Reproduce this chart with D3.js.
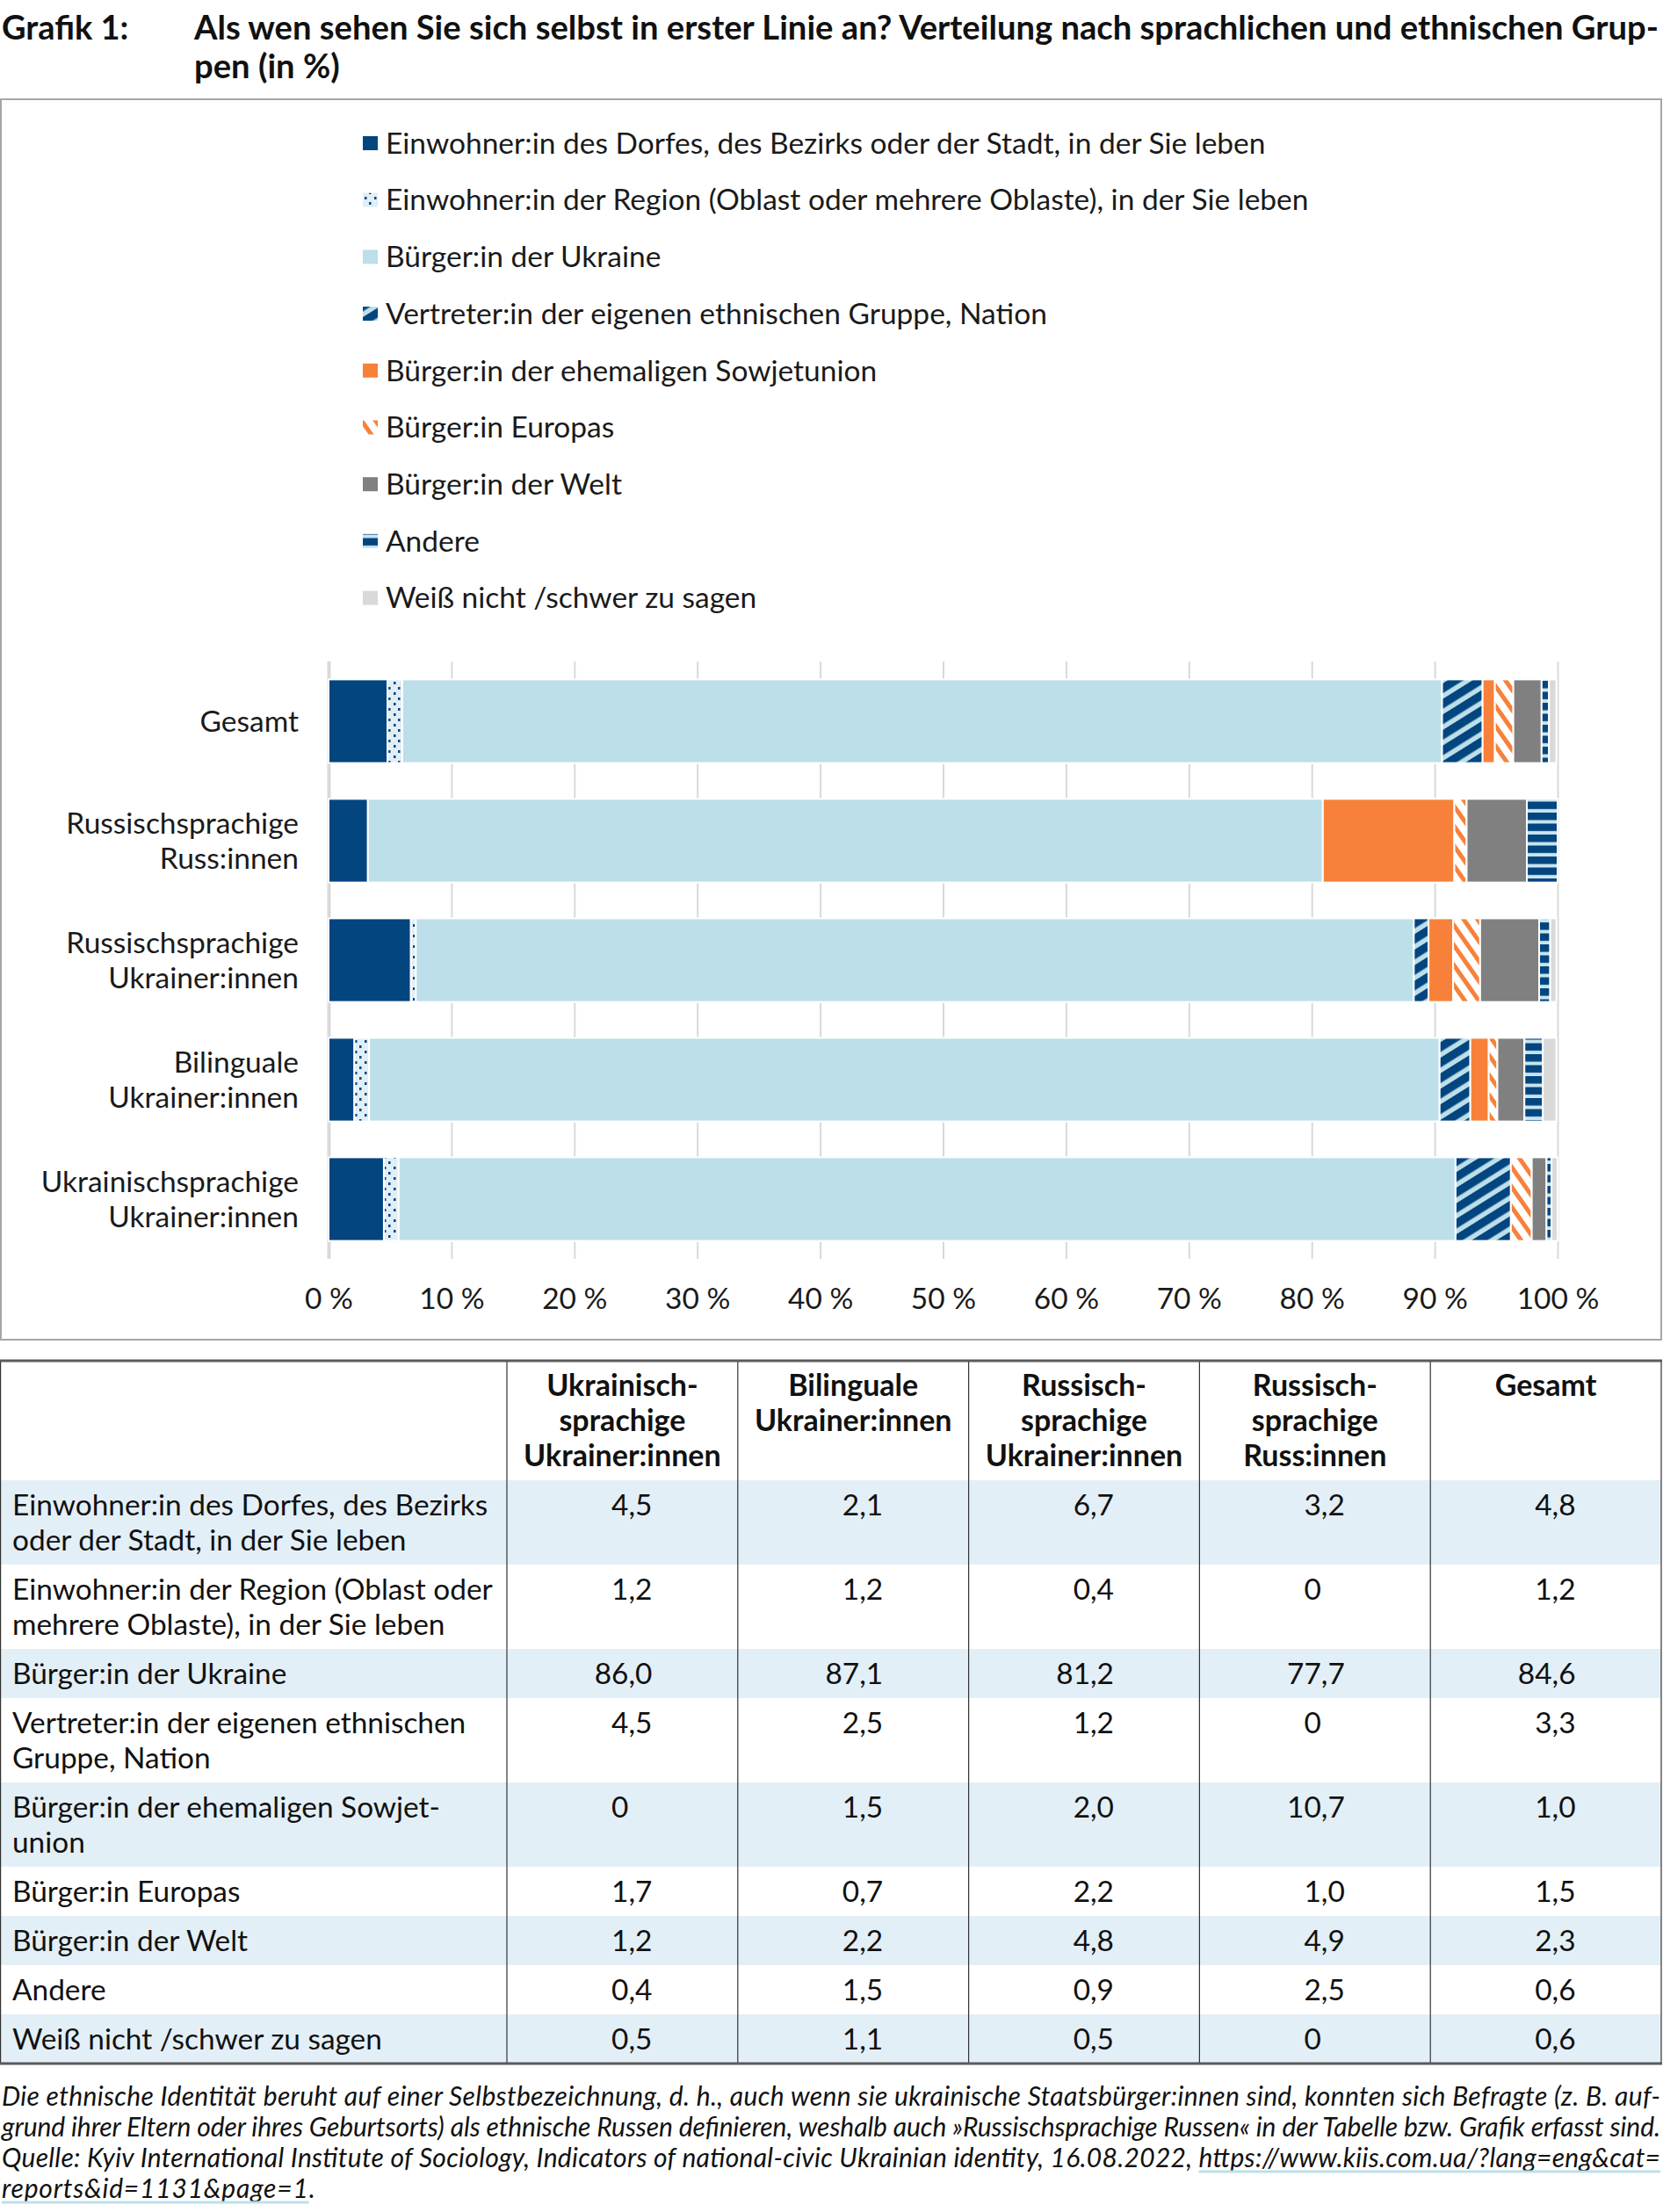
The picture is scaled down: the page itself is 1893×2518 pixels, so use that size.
<!DOCTYPE html>
<html>
<head>
<meta charset="utf-8">
<script src="https://cdn.jsdelivr.net/npm/d3@7"></script>
<style>
    html, body { margin: 0; padding: 0; background: #fff; }
    svg { display: block; font-family: Lato, "Open Sans", sans-serif; }
</style>
</head>
<body>
<svg id="chart" width="1893" height="2518"></svg>
<script>
// Grafik 1: Selbstverortung nach sprachlichen und ethnischen Gruppen (in %)

// Spalten der Tabelle (Reihenfolge wie in der Tabelle)
const COLUMNS = [
    'Ukrainischsprachige Ukrainer:innen',
    'Bilinguale Ukrainer:innen',
    'Russischsprachige Ukrainer:innen',
    'Russischsprachige Russ:innen',
    'Gesamt'
];

// Reihenfolge der Balken von oben nach unten
const BAR_ORDER = [
    'Gesamt',
    'Russischsprachige Russ:innen',
    'Russischsprachige Ukrainer:innen',
    'Bilinguale Ukrainer:innen',
    'Ukrainischsprachige Ukrainer:innen'
];

const CATEGORIES = [
    'Einwohner:in des Dorfes, des Bezirks oder der Stadt, in der Sie leben',
    'Einwohner:in der Region (Oblast oder mehrere Oblaste), in der Sie leben',
    'Bürger:in der Ukraine',
    'Vertreter:in der eigenen ethnischen Gruppe, Nation',
    'Bürger:in der ehemaligen Sowjetunion',
    'Bürger:in Europas',
    'Bürger:in der Welt',
    'Andere',
    'Weiß nicht /schwer zu sagen'
];

// Werte je Kategorie, in der Reihenfolge von COLUMNS
const V_DORF      = [4.5, 2.1, 6.7, 3.2, 4.8];
const V_REGION    = [1.2, 1.2, 0.4, 0, 1.2];
const V_UKRAINE   = [86.0, 87.1, 81.2, 77.7, 84.6];
const V_VERTRETER = [4.5, 2.5, 1.2, 0, 3.3];
const V_SOWJET    = [0, 1.5, 2.0, 10.7, 1.0];
const V_EUROPA    = [1.7, 0.7, 2.2, 1.0, 1.5];
const V_WELT      = [1.2, 2.2, 4.8, 4.9, 2.3];
const V_ANDERE    = [0.4, 1.5, 0.9, 2.5, 0.6];
const V_WEISS     = [0.5, 1.1, 0.5, 0, 0.6];
const SERIES_VALUES = [V_DORF, V_REGION, V_UKRAINE, V_VERTRETER, V_SOWJET, V_EUROPA, V_WELT, V_ANDERE, V_WEISS];

const X_TICKS = [0, 10, 20, 30, 40, 50, 60, 70, 80, 90, 100];

// Tabellenbeschriftungen mit Zeilenumbruch wie im Original
const HEADER_LINES = [
    ['Ukrainisch-', 'sprachige', 'Ukrainer:innen'],
    ['Bilinguale', 'Ukrainer:innen'],
    ['Russisch-', 'sprachige', 'Ukrainer:innen'],
    ['Russisch-', 'sprachige', 'Russ:innen'],
    ['Gesamt']
];
const ROW_LINES = [
    ['Einwohner:in des Dorfes, des Bezirks', 'oder der Stadt, in der Sie leben'],
    ['Einwohner:in der Region (Oblast oder', 'mehrere Oblaste), in der Sie leben'],
    ['Bürger:in der Ukraine'],
    ['Vertreter:in der eigenen ethnischen', 'Gruppe, Nation'],
    ['Bürger:in der ehemaligen Sowjet-', 'union'],
    ['Bürger:in Europas'],
    ['Bürger:in der Welt'],
    ['Andere'],
    ['Weiß nicht /schwer zu sagen']
];

const TITLE_LINES = [
    'Als wen sehen Sie sich selbst in erster Linie an? Verteilung nach sprachlichen und ethnischen Grup-',
    'pen (in %)'
];
const NOTE_LINES = [
    'Die ethnische Identität beruht auf einer Selbstbezeichnung, d. h., auch wenn sie ukrainische Staatsbürger:innen sind, konnten sich Befragte (z. B. auf-',
    'grund ihrer Eltern oder ihres Geburtsorts) als ethnische Russen definieren, weshalb auch »Russischsprachige Russen« in der Tabelle bzw. Grafik erfasst sind.',
    'Quelle: Kyiv International Institute of Sociology, Indicators of national-civic Ukrainian identity, 16.08.2022, https://www.kiis.com.ua/?lang=eng&cat=',
    'reports&id=1131&page=1.'
];

// Farben
const C_DARK = '#03457f';
const C_LIGHT = '#bcdfea';
const C_ORANGE = '#f7813a';
const C_GREY = '#808080';
const C_LGREY = '#d9d9d9';
const FILLS = [C_DARK, 'url(#pRegion)', C_LIGHT, 'url(#pVertreter)', C_ORANGE,
    'url(#pEuropa)', C_GREY, 'url(#pAndere)', C_LGREY];

const FS = 33.5;      // Grundschrift
const FS_TAB = 33.4;  // Tabellenschrift

const svg = d3.select('#chart');
const defs = svg.append('defs');

function stripePattern(id, bg, fg, size, band, angle) {
    const p = defs.append('pattern')
        .attr('id', id)
        .attr('patternUnits', 'userSpaceOnUse')
        .attr('width', size)
        .attr('height', size)
        .attr('patternTransform', 'rotate(' + angle + ')');
    p.append('rect').attr('width', size).attr('height', size).attr('fill', bg);
    p.append('rect').attr('width', size).attr('height', band).attr('fill', fg);
}
stripePattern('pVertreter', C_LIGHT, C_DARK, 15, 9.5, -32);
stripePattern('pEuropa', '#ffffff', C_ORANGE, 13, 5, 55);
stripePattern('pAndere', '#c8e4ee', C_DARK, 12.5, 8.5, 0);

const dots = defs.append('pattern')
    .attr('id', 'pRegion')
    .attr('patternUnits', 'userSpaceOnUse')
    .attr('width', 11)
    .attr('height', 12);
dots.append('rect').attr('width', 11).attr('height', 12).attr('fill', '#e0eef6');
dots.append('rect').attr('x', 2).attr('y', 2).attr('width', 2.5).attr('height', 3).attr('fill', C_DARK);
dots.append('rect').attr('x', 8).attr('y', 8).attr('width', 2.5).attr('height', 3).attr('fill', C_DARK);

// Titel
svg.append('text')
    .attr('x', 2).attr('y', 45)
    .attr('font-size', 38).attr('font-weight', 700).attr('fill', '#111')
    .text('Grafik 1:');
TITLE_LINES.forEach(function (t, i) {
    svg.append('text')
        .attr('x', 221).attr('y', 45 + i * 44)
        .attr('font-size', 38.2).attr('font-weight', 700).attr('fill', '#111')
        .text(t);
});

// Rahmen um die Grafik
svg.append('rect')
    .attr('x', 1).attr('y', 113).attr('width', 1890).attr('height', 1412)
    .attr('fill', 'none').attr('stroke', '#a6a6a6').attr('stroke-width', 2);

// Legende
const legend = svg.append('g').attr('class', 'legend');
CATEGORIES.forEach(function (name, i) {
    const ly = 163 + i * 64.7;
    legend.append('rect')
        .attr('x', 413).attr('y', ly - 8).attr('width', 17).attr('height', 16)
        .attr('fill', FILLS[i]);
    legend.append('text')
        .attr('x', 439).attr('y', ly).attr('dy', '0.35em')
        .attr('font-size', FS).attr('fill', '#1a1a1a')
        .text(name);
});

// Gestapelte Balken
const rows = COLUMNS.map(function (col, c) {
    const o = { group: col };
    SERIES_VALUES.forEach(function (arr, s) { o['s' + s] = arr[c]; });
    return o;
});
const keys = SERIES_VALUES.map(function (_, s) { return 's' + s; });
const stacked = d3.stack().keys(keys)(rows);

const x = d3.scaleLinear().domain([0, 100]).range([374, 1773]);
const y = d3.scaleBand().domain(BAR_ORDER).range([753, 1433])
    .paddingInner(0.3).paddingOuter(0.15);

const gx = svg.append('g')
    .attr('transform', 'translate(0,1433)')
    .call(d3.axisBottom(x)
        .tickValues(X_TICKS)
        .tickSize(-680)
        .tickPadding(33)
        .tickFormat(function (d) { return d + ' %'; }));
gx.select('.domain').remove();
gx.selectAll('.tick line').attr('stroke', C_LGREY).attr('stroke-width', 2);
gx.selectAll('.tick').filter(function (d) { return d === 0; })
    .select('line').attr('stroke-width', 4);
gx.selectAll('.tick text')
    .attr('font-size', FS).attr('fill', '#1a1a1a')
    .attr('font-family', 'Lato, sans-serif');

const gy = svg.append('g')
    .attr('transform', 'translate(374,0)')
    .call(d3.axisLeft(y).tickSize(0).tickPadding(34));
gy.select('.domain').remove();
gy.selectAll('.tick text')
    .attr('font-size', FS).attr('fill', '#1a1a1a')
    .attr('font-family', 'Lato, sans-serif')
    .each(function (d) {
        const t = d3.select(this);
        const lines = d.split(' ');
        t.text(null).attr('dy', null);
        lines.forEach(function (ln, i) {
            t.append('tspan')
                .attr('x', -34)
                .attr('y', (i - (lines.length - 1) / 2) * 40)
                .attr('dy', '0.35em')
                .text(ln);
        });
    });

const barG = svg.append('g').attr('class', 'bars');
stacked.forEach(function (layer, s) {
    barG.append('g')
        .attr('fill', FILLS[s])
        .selectAll('rect')
        .data(layer.filter(function (d) { return d[1] - d[0] > 0; }))
        .enter()
        .append('rect')
        .attr('x', function (d) { return x(d[0]); })
        .attr('width', function (d) { return x(d[1]) - x(d[0]); })
        .attr('y', function (d) { return y(d.data.group); })
        .attr('height', y.bandwidth())
        .attr('stroke', '#fff')
        .attr('stroke-width', 2);
});

// Tabelle
const TABLE_TOP = 1549;
const colX = d3.scaleBand().domain(COLUMNS).range([577, 1891]);
const rowH = function (n) { return 16 + n * 40; };
const headerH = rowH(3);
const table = svg.append('g').attr('class', 'table');

let ry = TABLE_TOP + headerH;
const rowTops = [];
ROW_LINES.forEach(function (lines, r) {
    const h = rowH(lines.length);
    rowTops.push(ry);
    if (r % 2 === 0) {
        table.append('rect')
            .attr('x', 0).attr('y', ry).attr('width', 1891).attr('height', h)
            .attr('fill', '#e3eff7');
    }
    ry += h;
});
const TABLE_BOTTOM = ry;

// Trennlinien
COLUMNS.forEach(function (col) {
    table.append('line')
        .attr('x1', colX(col)).attr('x2', colX(col))
        .attr('y1', TABLE_TOP).attr('y2', TABLE_BOTTOM)
        .attr('stroke', '#333').attr('stroke-width', 1.2);
});
[0.6, 1891].forEach(function (xx) {
    table.append('line')
        .attr('x1', xx).attr('x2', xx)
        .attr('y1', TABLE_TOP).attr('y2', TABLE_BOTTOM)
        .attr('stroke', '#333').attr('stroke-width', 1.2);
});
[TABLE_TOP, TABLE_BOTTOM].forEach(function (yy) {
    table.append('line')
        .attr('x1', 0).attr('x2', 1892)
        .attr('y1', yy).attr('y2', yy)
        .attr('stroke', '#5b5b5b').attr('stroke-width', 3);
});

// Kopfzeile
HEADER_LINES.forEach(function (lines, c) {
    const cx = colX(COLUMNS[c]) + colX.bandwidth() / 2;
    lines.forEach(function (ln, i) {
        table.append('text')
            .attr('x', cx).attr('y', TABLE_TOP + 28 + i * 40).attr('dy', '0.35em')
            .attr('text-anchor', 'middle')
            .attr('font-size', 34).attr('font-weight', 700).attr('fill', '#111')
            .text(ln);
    });
});

// Zeilen
ROW_LINES.forEach(function (lines, r) {
    const top = rowTops[r];
    lines.forEach(function (ln, i) {
        table.append('text')
            .attr('x', 14).attr('y', top + 28 + i * 40).attr('dy', '0.35em')
            .attr('font-size', FS_TAB).attr('fill', '#111')
            .text(ln);
    });
    SERIES_VALUES[r].forEach(function (v, c) {
        const commaX = colX(COLUMNS[c]) + colX.bandwidth() / 2 + 7;
        const parts = v === 0 ? ['0', ''] : v.toFixed(1).split('.');
        table.append('text')
            .attr('x', commaX).attr('y', top + 28).attr('dy', '0.35em')
            .attr('text-anchor', 'end')
            .attr('font-size', FS_TAB).attr('fill', '#111')
            .text(parts[0]);
        if (parts[1]) {
            table.append('text')
                .attr('x', commaX).attr('y', top + 28).attr('dy', '0.35em')
                .attr('font-size', FS_TAB).attr('fill', '#111')
                .text(',' + parts[1]);
        }
    });
});

// Fußnote
const NOTE_BASE = [2397, 2432, 2467, 2502];
NOTE_LINES.forEach(function (ln, i) {
    const t = svg.append('text')
        .attr('x', 2).attr('y', NOTE_BASE[i])
        .attr('font-size', 30).attr('font-style', 'italic').attr('fill', '#111')
        .text(ln);
    if (i < 3) {
        t.attr('textLength', 1888).attr('lengthAdjust', 'spacing');
    } else {
        t.attr('letter-spacing', 0.8);
    }
    const node = t.node();
    let x1 = null, x2 = null;
    if (i === 2) {
        const k = ln.indexOf('https');
        x1 = node.getStartPositionOfChar(k).x;
        x2 = 1890;
    } else if (i === 3) {
        x1 = 2;
        x2 = node.getEndPositionOfChar(ln.length - 2).x;
    }
    if (x1 !== null) {
        svg.append('line')
            .attr('x1', x1).attr('x2', x2)
            .attr('y1', NOTE_BASE[i] + 5).attr('y2', NOTE_BASE[i] + 5)
            .attr('stroke', '#bcdfea').attr('stroke-width', 3);
    }
});
</script>
</body>
</html>
